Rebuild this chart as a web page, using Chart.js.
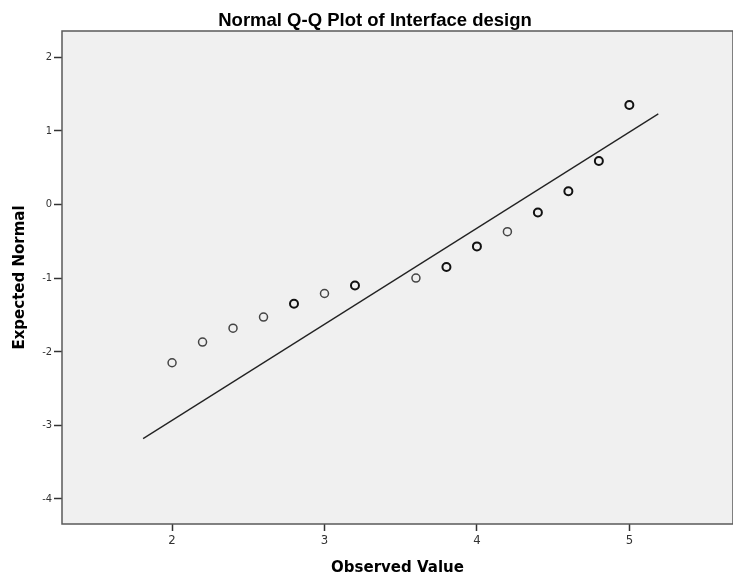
<!DOCTYPE html>
<html>
<head>
<meta charset="utf-8">
<script src="https://cdn.jsdelivr.net/npm/chart.js@4.4.1/dist/chart.umd.min.js"></script>
<style>
  html, body { margin: 0; padding: 0; background: #fff; overflow: hidden; }
  #wrap { width: 739px; height: 582px; }
</style>
</head>
<body>
<div id="wrap"><canvas id="qq" width="739" height="582"></canvas></div>
<script>
// observed values and their expected normal scores
const observed = [2.0, 2.2, 2.4, 2.6, 2.8, 3.0, 3.2, 3.6, 3.8, 4.0, 4.2, 4.4, 4.6, 4.8, 5.0];
const expected = [-2.15, -1.87, -1.68, -1.53, -1.35, -1.21, -1.10, -1.00, -0.85, -0.57, -0.37, -0.11, 0.18, 0.59, 1.35];

// reference line ends
const lineX = [1.81, 5.19];
const lineY = [-3.18, 1.23];

const xTicks = [2, 3, 4, 5];
const yTicks = [-4, -3, -2, -1, 0, 1, 2];

const chartTitle = "Normal Q-Q Plot of Interface design";
const xTitle = "Observed Value";
const yTitle = "Expected Normal";

// darker rings for the points drawn heavier in the original
const heavy = [false, false, false, false, true, false, true, false, true, true, false, true, true, true, true];

const plotDecor = {
    id: "plotDecor",
    beforeDraw(chart) {
        const { ctx, chartArea: a } = chart;
        ctx.save();
        ctx.fillStyle = "#f0f0f0";
        ctx.fillRect(a.left, a.top, a.right - a.left, a.bottom - a.top);
        ctx.restore();
    },
    afterDraw(chart) {
        const { ctx, chartArea: a } = chart;
        ctx.save();
        ctx.strokeStyle = "#5a5a5a";
        ctx.lineWidth = 1.5;
        ctx.strokeRect(a.left, a.top, a.right - a.left, a.bottom - a.top);
        ctx.fillStyle = "#000";
        ctx.font = "bold 18.5px 'Liberation Sans', Arial, sans-serif";
        ctx.textAlign = "center";
        ctx.textBaseline = "alphabetic";
        ctx.fillText(chartTitle, 375, 26);
        ctx.restore();
    }
};

const ctx = document.getElementById("qq").getContext("2d");
new Chart(ctx, {
    type: "scatter",
    data: {
        datasets: [
            {
                type: "line",
                data: lineX.map((x, i) => ({ x: x, y: lineY[i] })),
                borderColor: "#222",
                borderWidth: 1.3,
                pointRadius: 0,
                fill: false
            },
            {
                data: observed.map((x, i) => ({ x: x, y: expected[i] })),
                pointRadius: 4,
                pointBackgroundColor: "rgba(0,0,0,0)",
                pointBorderColor: observed.map((_, i) => heavy[i] ? "#111" : "#444"),
                pointBorderWidth: observed.map((_, i) => heavy[i] ? 2 : 1.5)
            }
        ]
    },
    options: {
        responsive: false,
        animation: false,
        events: [],
        layout: { padding: { top: 31, right: 0, left: 0, bottom: 0 } },
        plugins: {
            legend: { display: false },
            title: { display: false },
            tooltip: { enabled: false }
        },
        scales: {
            x: {
                type: "linear",
                min: 1.278,
                max: 5.68,
                afterBuildTicks: (s) => { s.ticks = xTicks.map(v => ({ value: v })); },
                afterFit: (s) => { s.height = 58; },
                grid: { drawOnChartArea: false, tickLength: 7, tickColor: "#333", tickWidth: 1.5 },
                border: { display: false },
                ticks: { color: "#333", padding: 2, font: { family: "'DejaVu Sans Condensed', 'DejaVu Sans', sans-serif", size: 13 } },
                title: {
                    display: true,
                    text: xTitle,
                    color: "#000",
                    font: { family: "'DejaVu Sans', sans-serif", size: 15, weight: "bold" },
                    padding: { top: 4, bottom: 5 }
                }
            },
            y: {
                type: "linear",
                min: -4.34,
                max: 2.355,
                afterBuildTicks: (s) => { s.ticks = yTicks.map(v => ({ value: v })); },
                afterFit: (s) => { s.width = 62; },
                grid: { drawOnChartArea: false, tickLength: 8, tickColor: "#333", tickWidth: 1.5 },
                border: { display: false },
                ticks: { color: "#333", padding: 2, font: { family: "'DejaVu Sans Condensed', 'DejaVu Sans', sans-serif", size: 11 } },
                title: {
                    display: true,
                    text: yTitle,
                    color: "#000",
                    font: { family: "'DejaVu Sans', sans-serif", size: 15, weight: "bold" },
                    padding: { top: 11, bottom: 4 }
                }
            }
        }
    },
    plugins: [plotDecor]
});
</script>
</body>
</html>
